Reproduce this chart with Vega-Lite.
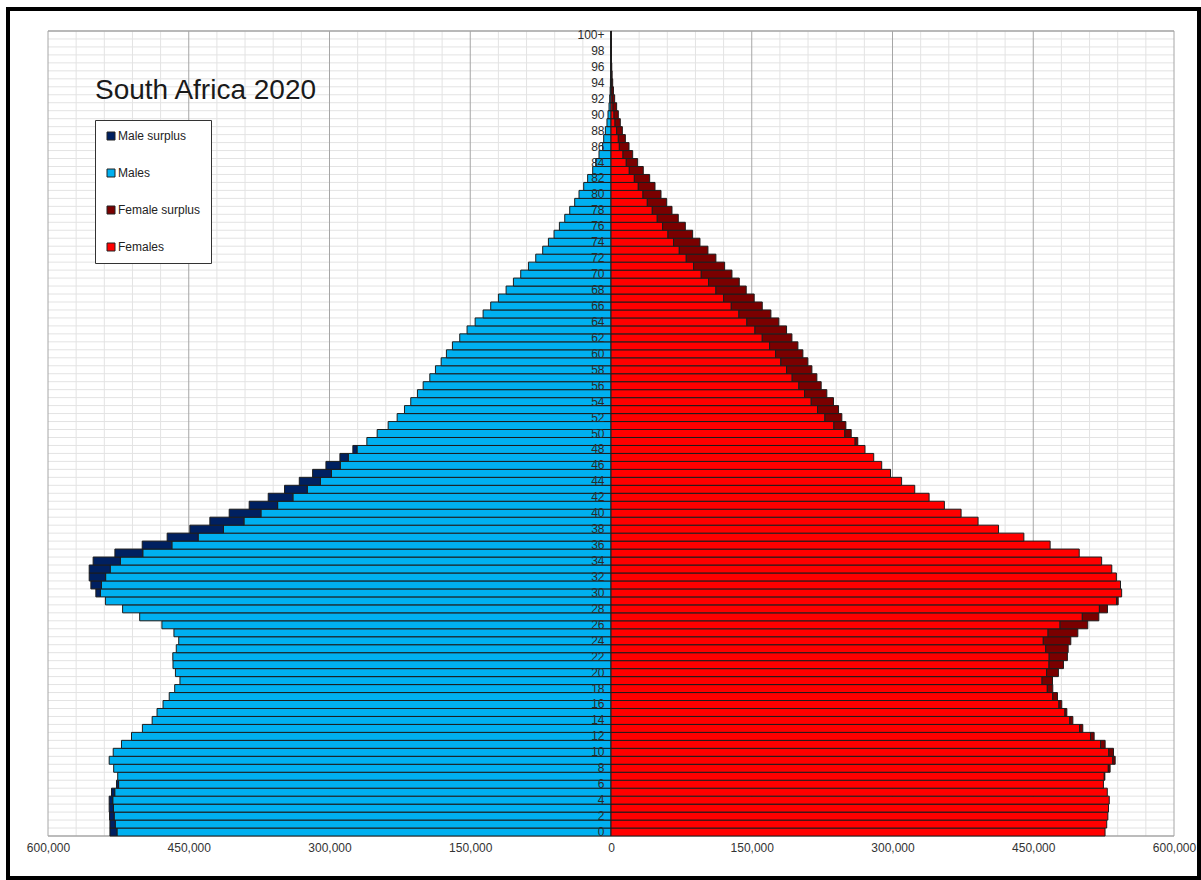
{
  "$schema": "https://vega.github.io/schema/vega-lite/v6.json",
  "width": 1191,
  "height": 869,
  "autosize": {"type": "none"},
  "padding": {"left": 8, "top": 9, "right": 2, "bottom": 2},
  "background": "white",
  "title": {"text": "South Africa 2020", "anchor": "start", "frame": "group", "orient": "top", "offset": 0, "dx": 87, "dy": 118, "baseline": "alphabetic", "fontSize": 28, "fontWeight": "normal", "font": "Liberation Sans", "color": "#1a1a1a"},
  "config": {
    "view": {"stroke": "#000000", "strokeWidth": 4},
    "font": "Liberation Sans"
  },
  "datasets": {
    "gx": [
      {"v": -600000}, {"v": -570000}, {"v": -540000}, {"v": -510000}, {"v": -480000}, {"v": -450000}, {"v": -420000}, {"v": -390000}, {"v": -360000}, {"v": -330000},
      {"v": -300000}, {"v": -270000}, {"v": -240000}, {"v": -210000}, {"v": -180000}, {"v": -150000}, {"v": -120000}, {"v": -90000}, {"v": -60000}, {"v": -30000},
      {"v": 0}, {"v": 30000}, {"v": 60000}, {"v": 90000}, {"v": 120000}, {"v": 150000}, {"v": 180000}, {"v": 210000}, {"v": 240000}, {"v": 270000},
      {"v": 300000}, {"v": 330000}, {"v": 360000}, {"v": 390000}, {"v": 420000}, {"v": 450000}, {"v": 480000}, {"v": 510000}, {"v": 540000}, {"v": 570000}, {"v": 600000}
    ]
  },
  "data": {"values": [
    {"a":0,"Males":-526500,"Male surplus":-7500,"Females":526500},
    {"a":1,"Males":-528300,"Male surplus":-5700,"Females":528300},
    {"a":2,"Males":-529500,"Male surplus":-4900,"Females":529500},
    {"a":3,"Males":-530200,"Male surplus":-4600,"Females":530200},
    {"a":4,"Males":-531000,"Male surplus":-3800,"Females":531000},
    {"a":5,"Males":-528900,"Male surplus":-3400,"Females":528900},
    {"a":6,"Males":-524800,"Male surplus":-2200,"Females":524800},
    {"a":7,"Males":-525700,"Females":525700,"Female surplus":600},
    {"a":8,"Males":-530000,"Females":530000,"Female surplus":1900},
    {"a":9,"Males":-534800,"Females":534800,"Female surplus":2500},
    {"a":10,"Males":-530500,"Females":530500,"Female surplus":5000},
    {"a":11,"Males":-521700,"Females":521700,"Female surplus":4900},
    {"a":12,"Males":-511000,"Females":511000,"Female surplus":3900},
    {"a":13,"Males":-499400,"Females":499400,"Female surplus":3400},
    {"a":14,"Males":-489000,"Females":489000,"Female surplus":3200},
    {"a":15,"Males":-483800,"Females":483800,"Female surplus":2000},
    {"a":16,"Males":-477400,"Females":477400,"Female surplus":3000},
    {"a":17,"Males":-470800,"Females":470800,"Female surplus":5000},
    {"a":18,"Males":-465000,"Females":465000,"Female surplus":5800},
    {"a":19,"Males":-459400,"Females":459400,"Female surplus":11100},
    {"a":20,"Males":-464200,"Females":464200,"Female surplus":12600},
    {"a":21,"Males":-466800,"Females":466800,"Female surplus":15400},
    {"a":22,"Males":-467000,"Females":467000,"Female surplus":19400},
    {"a":23,"Males":-463300,"Females":463300,"Female surplus":23900},
    {"a":24,"Males":-460700,"Females":460700,"Female surplus":29300},
    {"a":25,"Males":-465800,"Females":465800,"Female surplus":31700},
    {"a":26,"Males":-478600,"Females":478600,"Female surplus":29500},
    {"a":27,"Males":-502300,"Females":502300,"Female surplus":17600},
    {"a":28,"Males":-520500,"Females":520500,"Female surplus":8600},
    {"a":29,"Males":-538800,"Females":538800,"Female surplus":1700},
    {"a":30,"Males":-544200,"Male surplus":-4800,"Females":544200},
    {"a":31,"Males":-543000,"Male surplus":-11300,"Females":543000},
    {"a":32,"Males":-538600,"Male surplus":-17500,"Females":538600},
    {"a":33,"Males":-533700,"Male surplus":-22400,"Females":533700},
    {"a":34,"Males":-522900,"Male surplus":-29000,"Females":522900},
    {"a":35,"Males":-499000,"Male surplus":-29700,"Females":499000},
    {"a":36,"Males":-468000,"Male surplus":-31600,"Females":468000},
    {"a":37,"Males":-440000,"Male surplus":-33000,"Females":440000},
    {"a":38,"Males":-413000,"Male surplus":-35800,"Females":413000},
    {"a":39,"Males":-391200,"Male surplus":-36300,"Females":391200},
    {"a":40,"Males":-373100,"Male surplus":-33800,"Females":373100},
    {"a":41,"Males":-355300,"Male surplus":-30300,"Females":355300},
    {"a":42,"Males":-339000,"Male surplus":-26300,"Females":339000},
    {"a":43,"Males":-323700,"Male surplus":-24200,"Females":323700},
    {"a":44,"Males":-309700,"Male surplus":-22500,"Females":309700},
    {"a":45,"Males":-297900,"Male surplus":-20100,"Females":297900},
    {"a":46,"Males":-288500,"Male surplus":-15300,"Females":288500},
    {"a":47,"Males":-280000,"Male surplus":-8900,"Females":280000},
    {"a":48,"Males":-270700,"Male surplus":-4400,"Females":270700},
    {"a":49,"Males":-260200,"Females":260200,"Female surplus":2800},
    {"a":50,"Males":-249200,"Females":249200,"Female surplus":6800},
    {"a":51,"Males":-237500,"Females":237500,"Female surplus":12800},
    {"a":52,"Males":-227900,"Females":227900,"Female surplus":18100},
    {"a":53,"Males":-220100,"Females":220100,"Female surplus":22400},
    {"a":54,"Males":-213400,"Females":213400,"Female surplus":23700},
    {"a":55,"Males":-206300,"Females":206300,"Female surplus":23700},
    {"a":56,"Males":-200200,"Females":200200,"Female surplus":23800},
    {"a":57,"Males":-193100,"Females":193100,"Female surplus":26300},
    {"a":58,"Males":-187100,"Females":187100,"Female surplus":27000},
    {"a":59,"Males":-181000,"Females":181000,"Female surplus":28800},
    {"a":60,"Males":-175400,"Females":175400,"Female surplus":29100},
    {"a":61,"Males":-169000,"Females":169000,"Female surplus":30200},
    {"a":62,"Males":-161200,"Females":161200,"Female surplus":31600},
    {"a":63,"Males":-153400,"Females":153400,"Female surplus":33700},
    {"a":64,"Males":-144800,"Females":144800,"Female surplus":34100},
    {"a":65,"Males":-136300,"Females":136300,"Female surplus":34100},
    {"a":66,"Males":-128200,"Females":128200,"Female surplus":33000},
    {"a":67,"Males":-120000,"Females":120000,"Female surplus":32600},
    {"a":68,"Males":-111800,"Females":111800,"Female surplus":32300},
    {"a":69,"Males":-104000,"Females":104000,"Female surplus":32700},
    {"a":70,"Males":-96200,"Females":96200,"Female surplus":32700},
    {"a":71,"Males":-88000,"Females":88000,"Female surplus":33100},
    {"a":72,"Males":-80200,"Females":80200,"Female surplus":31600},
    {"a":73,"Males":-72800,"Females":72800,"Female surplus":30500},
    {"a":74,"Males":-66700,"Females":66700,"Female surplus":28100},
    {"a":75,"Males":-60700,"Females":60700,"Female surplus":26300},
    {"a":76,"Males":-55000,"Females":55000,"Female surplus":24200},
    {"a":77,"Males":-49300,"Females":49300,"Female surplus":22400},
    {"a":78,"Males":-44000,"Females":44000,"Female surplus":21000},
    {"a":79,"Males":-38700,"Females":38700,"Female surplus":20600},
    {"a":80,"Males":-34100,"Females":34100,"Female surplus":19200},
    {"a":81,"Males":-29100,"Females":29100,"Female surplus":17800},
    {"a":82,"Males":-24900,"Females":24900,"Female surplus":16300},
    {"a":83,"Males":-19500,"Females":19500,"Female surplus":14900},
    {"a":84,"Males":-16300,"Females":16300,"Female surplus":12100},
    {"a":85,"Males":-12800,"Females":12800,"Female surplus":10300},
    {"a":86,"Males":-8900,"Females":8900,"Female surplus":10300},
    {"a":87,"Males":-7800,"Females":7800,"Female surplus":7500},
    {"a":88,"Males":-6000,"Females":6000,"Female surplus":6100},
    {"a":89,"Males":-4300,"Females":4300,"Female surplus":5600},
    {"a":90,"Males":-3200,"Females":3200,"Female surplus":4600},
    {"a":91,"Males":-2100,"Females":2100,"Female surplus":3900},
    {"a":92,"Males":-1400,"Females":1400,"Female surplus":2500},
    {"a":93,"Males":-900,"Females":900,"Female surplus":1700},
    {"a":94,"Males":-600,"Females":600,"Female surplus":1200},
    {"a":95,"Males":-400,"Females":400,"Female surplus":800},
    {"a":96,"Males":-250,"Females":250,"Female surplus":550},
    {"a":97,"Males":-150,"Females":150,"Female surplus":350},
    {"a":98,"Males":-100,"Females":100,"Female surplus":230},
    {"a":99,"Males":-60,"Females":60,"Female surplus":140},
    {"a":100,"Males":-60,"Females":60,"Female surplus":190}
  ]},
  "layer": [
    {
      "mark": {"type": "rule", "stroke": "#e3e3e3", "strokeWidth": 1},
      "encoding": {
        "y": {"field": "a", "type": "ordinal", "bandPosition": 0},
        "x": {"datum": -600000, "type": "quantitative"},
        "x2": {"datum": 600000}
      }
    },
    {
      "data": {"name": "gx"},
      "mark": {"type": "rule", "strokeWidth": 1},
      "encoding": {
        "x": {"field": "v", "type": "quantitative"},
        "y": {"datum": 100, "type": "ordinal", "bandPosition": 0},
        "y2": {"datum": 0, "bandPosition": 1},
        "stroke": {"condition": {"test": "datum.v % 150000 === 0", "value": "#a6a6a6"}, "value": "#e3e3e3"}
      }
    },
    {
      "data": {"values": [{}]},
      "mark": {"type": "rule", "stroke": "#a6a6a6", "strokeWidth": 1.5},
      "encoding": {
        "y": {"datum": 100, "type": "ordinal", "bandPosition": 0},
        "x": {"datum": -600000, "type": "quantitative"},
        "x2": {"datum": 600000}
      }
    },
    {
      "data": {"values": [{}]},
      "mark": {"type": "rule", "stroke": "#a6a6a6", "strokeWidth": 1.5},
      "encoding": {
        "y": {"datum": 0, "type": "ordinal", "bandPosition": 1},
        "x": {"datum": -600000, "type": "quantitative"},
        "x2": {"datum": 600000}
      }
    },
    {
      "transform": [
        {"fold": ["Males", "Male surplus", "Females", "Female surplus"], "as": ["s", "v"]},
        {"filter": "isValid(datum.v) && datum.v !== 0"}
      ],
      "mark": {"type": "bar", "stroke": "#1c1c1c", "strokeWidth": 1},
      "encoding": {
        "y": {
          "field": "a", "type": "ordinal",
          "scale": {
            "domain": [100,99,98,97,96,95,94,93,92,91,90,89,88,87,86,85,84,83,82,81,80,79,78,77,76,75,74,73,72,71,70,69,68,67,66,65,64,63,62,61,60,59,58,57,56,55,54,53,52,51,50,49,48,47,46,45,44,43,42,41,40,39,38,37,36,35,34,33,32,31,30,29,28,27,26,25,24,23,22,21,20,19,18,17,16,15,14,13,12,11,10,9,8,7,6,5,4,3,2,1,0],
            "range": [22, 827], "paddingInner": 0, "paddingOuter": 0, "round": false
          },
          "axis": {
            "orient": "left", "offset": -603, "title": null, "domain": false, "ticks": false, "tickSize": 0, "grid": false,
            "labelPadding": 7, "labelFontSize": 12, "labelColor": "#2b2b2b", "labelFont": "Liberation Sans",
            "values": [0,2,4,6,8,10,12,14,16,18,20,22,24,26,28,30,32,34,36,38,40,42,44,46,48,50,52,54,56,58,60,62,64,66,68,70,72,74,76,78,80,82,84,86,88,90,92,94,96,98,100],
            "labelExpr": "datum.value == 100 ? '100+' : datum.label",
            "zindex": 2
          }
        },
        "x": {
          "field": "v", "type": "quantitative", "stack": "zero",
          "scale": {"domain": [-642629, 626643], "nice": false, "zero": false},
          "axis": {
            "orient": "bottom", "offset": -42, "title": null, "domain": false, "ticks": false, "tickSize": 0, "grid": false,
            "values": [-600000, -450000, -300000, -150000, 0, 150000, 300000, 450000, 600000],
            "labelExpr": "format(abs(datum.value), ',')",
            "labelPadding": 6, "labelFontSize": 12, "labelColor": "#333333", "labelFont": "Liberation Sans", "labelFlush": false, "labelOverlap": false,
            "zindex": 2
          }
        },
        "order": {"field": "s", "sort": "descending"},
        "color": {
          "field": "s", "type": "nominal",
          "scale": {"domain": ["Male surplus", "Males", "Female surplus", "Females"], "range": ["#002060", "#00b0f0", "#7a0000", "#ff0000"]},
          "legend": {
            "orient": "none", "legendX": 87, "legendY": 111, "title": null,
            "symbolType": "square", "symbolSize": 64, "symbolStrokeColor": "#222222", "symbolStrokeWidth": 1,
            "labelFontSize": 12, "labelFont": "Liberation Sans", "labelColor": "#222222", "labelOffset": 1,
            "rowPadding": 25, "padding": 10, "strokeColor": "#333333", "fillColor": "#ffffff"
          }
        }
      }
    }
  ]
}
